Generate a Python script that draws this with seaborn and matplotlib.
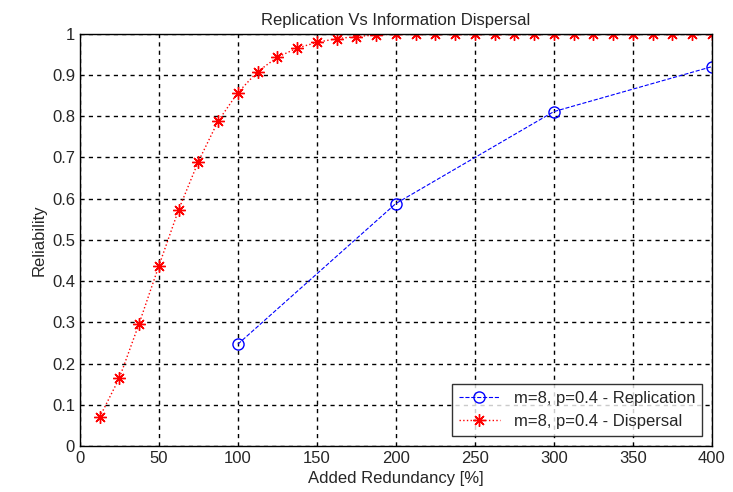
import matplotlib
matplotlib.use("Agg")
import matplotlib.pyplot as plt
import seaborn as sns

# valeurs
redundancy_disp = [12.5 * i for i in range(1, 33)]
reliability_disp = [0.07, 0.165, 0.297, 0.437, 0.573, 0.69, 0.788, 0.857,
                    0.908, 0.943, 0.965, 0.979, 0.988, 0.993, 0.997, 0.999,
                    1, 1, 1, 1, 1, 1, 1, 1, 1, 1, 1, 1, 1, 1, 1, 1]
redundancy_rep = [100, 200, 300, 400]
reliability_rep = [0.247, 0.588, 0.811, 0.92]

sns.set_style("white")
plt.rcParams['font.family'] = ['Liberation Sans', 'DejaVu Sans']

fig = plt.figure(figsize=(7.33, 4.92), dpi=100)
ax = fig.add_axes([0.109, 0.0935, 0.862, 0.838])

sns.lineplot(x=redundancy_rep, y=reliability_rep, ax=ax, color='blue',
             linestyle='--', linewidth=0.8, marker='o', markersize=8,
             markerfacecolor='none', markeredgecolor='blue', markeredgewidth=1,
             label='m=8, p=0.4 - Replication')
# asterisque facon MATLAB : 8 branches
sns.lineplot(x=redundancy_disp, y=reliability_disp, ax=ax, color='red',
             linestyle=':', linewidth=1, marker=(8, 2, 0), markersize=9,
             markeredgecolor='red', markeredgewidth=1,
             label='m=8, p=0.4 - Dispersal')

ax.set_xlim(0, 400)
ax.set_ylim(0, 1)
ax.set_xticks(range(0, 401, 50))
ax.set_yticks([i / 10 for i in range(11)])
ax.set_yticklabels(['0', '0.1', '0.2', '0.3', '0.4', '0.5', '0.6', '0.7',
                    '0.8', '0.9', '1'])
ax.grid(True, color='black', linestyle=(0, (3, 3)), linewidth=1)
ax.tick_params(direction='in', labelsize=12, length=4)
for s in ax.spines.values():
    s.set_color('black')
    s.set_linewidth(1)

ax.set_xlabel('Added Redundancy [%]', fontsize=12)
ax.set_ylabel('Reliability', fontsize=12)
ax.set_title('Replication Vs Information Dispersal', fontsize=12)

leg = ax.legend(loc='lower right', fontsize=12, frameon=True, fancybox=False,
                borderaxespad=0.6, handlelength=2.5)
leg.get_frame().set_edgecolor('black')

fig.savefig('out.png', dpi=100)
